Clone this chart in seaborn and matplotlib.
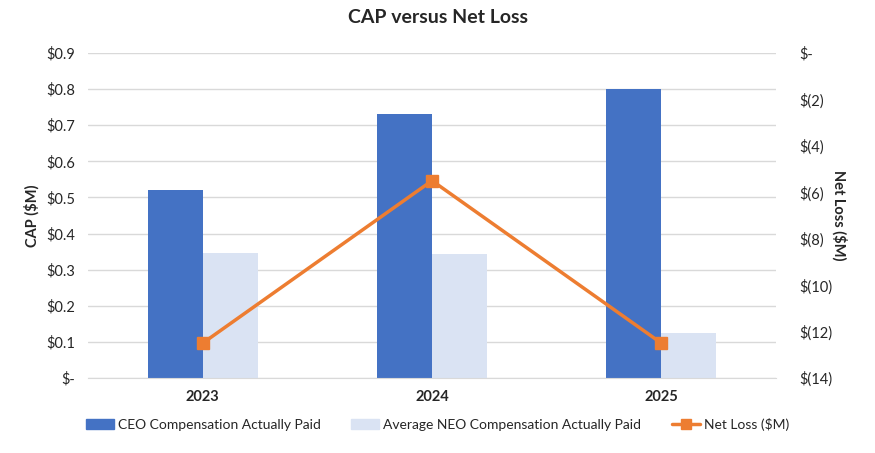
import pandas as pd
import matplotlib.pyplot as plt
import seaborn as sns
from matplotlib.lines import Line2D
from matplotlib.patches import Patch

years = ["2023", "2024", "2025"]
ceo_cap = [0.52, 0.73, 0.80]
neo_cap = [0.346, 0.343, 0.125]
net_loss = [-12.5, -5.5, -12.5]
series = ["CEO Compensation Actually Paid", "Average NEO Compensation Actually Paid"]
colors = ["#4472C4", "#DAE3F3"]
line_color = "#ED7D31"

df = pd.DataFrame({
    "Year": years * 2,
    "Series": [series[0]] * 3 + [series[1]] * 3,
    "CAP": ceo_cap + neo_cap,
})

sns.set_style("white")
plt.rcParams["font.family"] = ["Lato", "DejaVu Sans"]

fig = plt.figure(figsize=(8.75, 4.53), dpi=100)
ax = fig.add_axes([0.1006, 0.1656, 0.7863, 0.7174])
sns.barplot(data=df, x="Year", y="CAP", hue="Series", order=years, hue_order=series,
            palette=colors, width=0.48, saturation=1, linewidth=0, ax=ax, legend=False)
ax.set_ylim(0, 0.9)
ax.set_yticks([i / 10 for i in range(10)])
ax.set_yticklabels(["$-"] + [f"${i/10:.1f}" for i in range(1, 10)], fontsize=10.5)
ax.yaxis.grid(True, color="#D9D9D9", linewidth=1)
ax.set_axisbelow(True)
ax.set_xlabel("")
ax.set_ylabel("CAP ($M)", fontsize=10.5, fontweight="bold", labelpad=5)
ax.set_xticks(range(3))
ax.set_xticklabels(years, fontsize=10.5, fontweight="bold")
ax.tick_params(axis="both", length=0, pad=9)
for s in ax.spines.values():
    s.set_visible(False)
ax.spines["bottom"].set_visible(True)
ax.spines["bottom"].set_color("#D9D9D9")

ax2 = ax.twinx()
ax2.plot(range(3), net_loss, color=line_color, linewidth=2.5, marker="s", markersize=9)
ax2.set_ylim(-14, 0)
ax.set_xlim(-0.5, 2.5)
ticks2 = list(range(0, -15, -2))
ax2.set_yticks(ticks2)
ax2.set_yticklabels(["$-" if t == 0 else f"$({-t})" for t in ticks2], fontsize=10.5)
ax2.tick_params(axis="y", length=0, pad=17)
ax2.set_ylabel("Net Loss ($M)", fontsize=10.5, fontweight="bold", rotation=270, labelpad=10)
for s in ax2.spines.values():
    s.set_visible(False)

fig.suptitle("CAP versus Net Loss", fontsize=14, fontweight="bold", y=0.98)

handles = [Patch(color=colors[0]), Patch(color=colors[1]),
           Line2D([0], [0], color=line_color, linewidth=2.5, marker="s", markersize=7)]
labels = series + ["Net Loss ($M)"]
fig.legend(handles, labels, loc="center", bbox_to_anchor=(0.5, 0.064), ncol=3, frameon=False,
           fontsize=10, columnspacing=2.2, handlelength=2, handleheight=0.7, handletextpad=0.3)

fig.savefig("out.png", dpi=100)
